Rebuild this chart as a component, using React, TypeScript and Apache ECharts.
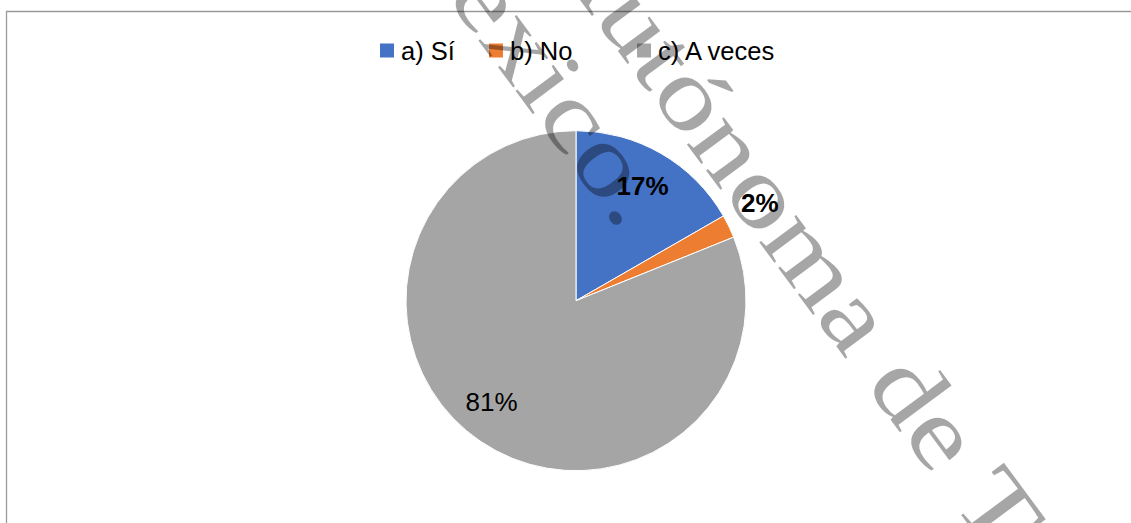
import React, { useEffect, useRef } from "react";
import * as echarts from "echarts";

const categories = ["a) Sí", "b) No", "c) A veces"];
const values = [16.7, 2.2, 81.1];
const colors = ["#4472C4", "#ED7D31", "#A5A5A5"];
const watermarkLines = ["Autónoma de T", "México."];

export default function App() {
  const ref = useRef<HTMLDivElement>(null);
  useEffect(() => {
    document.body.style.margin = "0";
    const chart = echarts.init(ref.current!, undefined, { renderer: "svg" });
    const fmt = (p: any) => `${Math.round(p.percent)}%`;
    const baseData = categories.map((name, i) => ({
      name,
      value: values[i],
      itemStyle: { color: colors[i] },
    }));
    const labelDataA = categories.map((name, i) => ({
      name,
      value: values[i],
      label: {
        show: i !== 1,
        fontWeight: i === 0 ? "bold" : "normal",
        offset: i === 2 ? [-10, -9] : [0, 0],
      },
    }));
    const labelDataB = categories.map((name, i) => ({
      name,
      value: values[i],
      label: { show: i === 1, fontWeight: "bold", offset: [-6, -5] },
    }));
    const legendLefts = [380, 489, 637];
    const legends = categories.map((name, i) => ({
      data: [name],
      left: legendLefts[i],
      top: 37.5,
      padding: 0,
      orient: "horizontal",
      itemWidth: 14,
      itemHeight: 14,
      icon: "rect",
      selectedMode: false,
      itemStyle: { borderWidth: 0 },
      textStyle: {
        fontFamily: "Liberation Sans",
        fontSize: 25.5,
        color: "#000",
        padding: [0, 0, 0, 2],
      },
    }));
    const labelCommon = {
      position: "inside",
      formatter: fmt,
      color: "#000",
      fontFamily: "Liberation Sans",
      fontSize: 26,
    };
    const wmAngle = (-53.5 * Math.PI) / 180;
    const wmStyle = {
      font: '100px "Liberation Serif"',
      fill: "rgba(0,0,0,0.35)",
      align: "left",
      verticalAlign: "middle",
    };
    chart.setOption({
      animation: false,
      color: colors,
      legend: legends,
      series: [
        {
          type: "pie",
          center: [576, 300.7],
          radius: [0, 170],
          startAngle: 90,
          clockwise: true,
          silent: true,
          label: { show: false },
          labelLine: { show: false },
          itemStyle: { borderColor: "#fff", borderWidth: 1 },
          data: baseData,
        },
        {
          type: "pie",
          center: [576, 300.7],
          radius: [90, 170],
          startAngle: 90,
          silent: true,
          itemStyle: { color: "rgba(0,0,0,0)", borderWidth: 0 },
          label: labelCommon,
          labelLine: { show: false },
          data: labelDataA,
          z: 3,
        },
        {
          type: "pie",
          center: [576, 300.7],
          radius: [192, 224],
          startAngle: 90,
          silent: true,
          itemStyle: { color: "rgba(0,0,0,0)", borderWidth: 0 },
          label: labelCommon,
          labelLine: { show: false },
          data: labelDataB,
          z: 3,
        },
      ],
      graphic: [
        {
          type: "rect",
          silent: true,
          shape: { x: 6.5, y: 11.5, width: 3000, height: 3000 },
          style: { fill: "none", stroke: "#9a9a9a", lineWidth: 1.3 },
          z: 1,
        },
        {
          type: "text",
          x: 567,
          y: -74,
          rotation: wmAngle,
          scaleX: 1.22,
          scaleY: 1,
          silent: true,
          z: 100,
          style: { ...wmStyle, text: watermarkLines[0] },
        },
        {
          type: "text",
          x: 408,
          y: -111,
          rotation: wmAngle,
          scaleX: 1.22,
          scaleY: 1,
          silent: true,
          z: 100,
          style: { ...wmStyle, text: watermarkLines[1] },
        },
      ],
    });
    return () => chart.dispose();
  }, []);
  return <div ref={ref} style={{ width: 1131, height: 523 }} />;
}
